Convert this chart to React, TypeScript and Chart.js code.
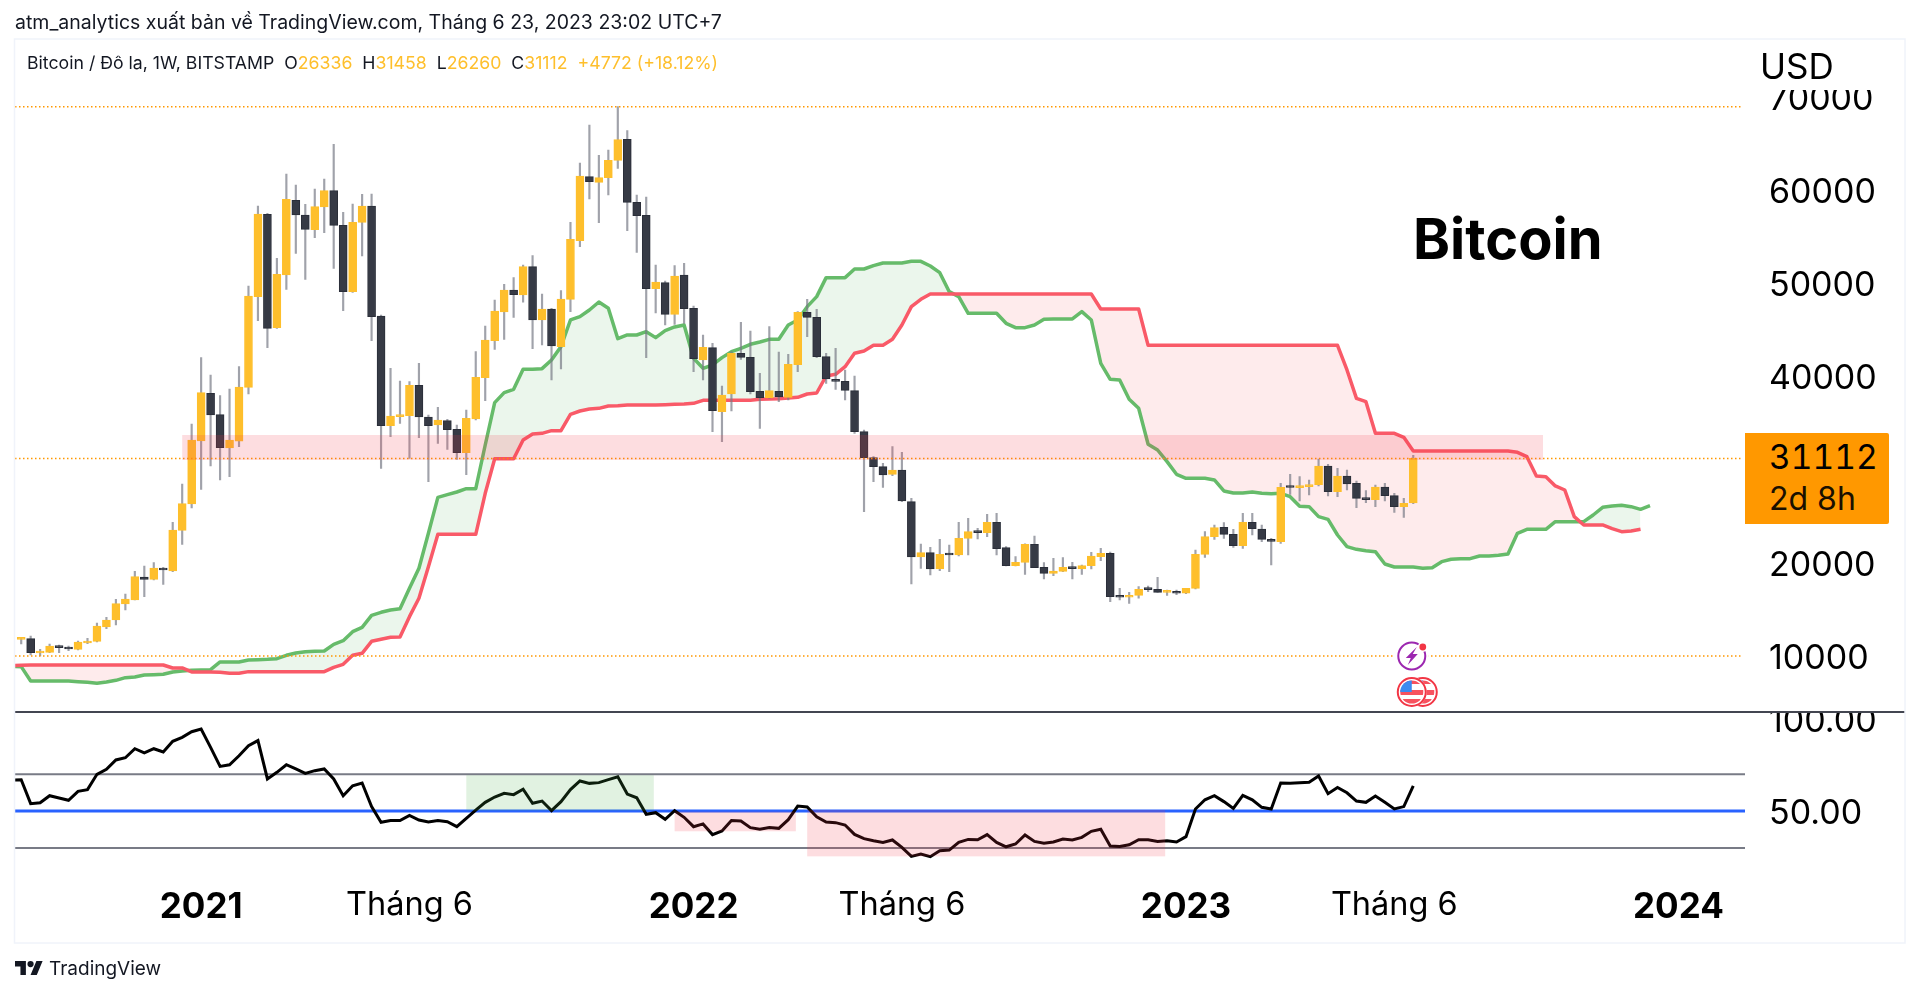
import React, { useEffect, useRef } from "react";
import { Chart, registerables } from "chart.js";

Chart.register(...registerables);

const opens = [11686,11757,10220,10290,10970,10826,10612,11292,11472,13010,13762,15480,15910,18380,18130,19347,19025,23392,26221,33000,38106,35815,32235,32977,38754,48493,57335,45163,50819,58838,57263,55688,58122,59876,56153,49029,56475,58230,46416,34633,35600,35708,38965,35564,34705,35170,34240,31734,35350,39792,43767,46845,49208,48672,51714,45987,47167,43122,48206,54507,61380,60771,61273,63134,65389,58622,57226,49350,50000,46594,50818,47238,41689,43012,36139,38032,42404,41974,38323,37643,38323,37679,41187,46807,46270,42046,39540,39397,38394,33991,31199,30232,29409,29874,26473,20530,20996,19242,20817,20745,22535,23251,23143,24254,21533,19600,19957,21890,19421,18776,18991,19421,19242,19600,20566,20924,16270,16200,16414,17130,17058,16736,16843,16629,17165,20817,22714,23716,22965,21747,24254,23537,22428,22176,28011,27976,28083,28298,30303,27546,29228,28441,26866,26687,28047,27116,25935,26336];
const highs = [11864,12044,10612,11185,11077,10970,11507,11793,13440,14048,15981,16554,18989,19562,19920,19418,24251,28368,34813,41941,40079,37855,38571,40974,49638,58230,57442,52609,61666,60485,58409,60055,61129,64852,57549,58445,59483,59518,46523,40795,39430,39359,41332,35779,36602,35314,34705,36316,42585,45342,48135,49817,50532,51893,52895,48779,47239,49137,56475,62848,66929,63671,64244,68898,66319,59410,59195,51892,50174,51820,52071,47488,44374,43478,38896,42580,45733,44802,40256,45268,42547,42296,46900,48204,47130,42404,42941,40614,39969,34170,31306,30590,32380,31771,26831,21926,21568,22428,21819,24253,24683,23609,25113,25220,21640,20566,21950,22786,19922,20387,20459,19958,19672,21031,21461,21067,17165,16736,17343,17415,18347,16987,16987,17165,21282,23251,23967,24218,23501,25220,25220,23967,22535,28441,29408,29157,28799,31054,30482,30052,29873,28691,27653,28262,28441,27367,26830,31458];
const lows = [11185,10003,9896,10254,10254,10470,10540,11220,11400,12831,13225,14836,15910,16268,18058,17593,18953,21889,25790,27796,30302,28798,29156,32378,38034,45915,43015,45091,49280,53146,50354,54829,55366,51535,46988,48957,52859,43767,30051,33452,34884,31125,33345,28619,32736,32092,31018,29371,35242,37318,42835,43910,46272,47900,42907,43302,39542,40723,46880,53862,58981,56440,59411,62275,55579,53252,41940,46737,45448,45520,45627,40436,39541,33991,32917,36211,41760,38036,34349,37571,37213,37392,40435,44194,41938,39182,38537,37392,33812,25398,28621,28012,29265,26473,17630,19312,18597,19063,18955,20638,20745,22463,22713,20745,19564,19564,18669,19385,18167,18525,18955,18167,18669,19242,20136,15733,15912,15554,16092,16808,16736,16414,16485,16593,17093,20495,22428,22535,21568,21460,22893,22177,19670,21997,27260,26543,27188,28154,27081,27009,27725,25827,26364,25935,26543,25326,24790,26260];
const closes = [11757,10254,10330,10970,10790,10647,11400,11472,13118,13762,15516,16018,18416,18130,19347,19132,23428,26256,33094,38178,35779,32270,33094,38786,48564,57370,45091,50890,58945,57263,55724,58158,59876,56153,49029,56475,58230,46344,34633,35672,35800,38965,35564,34633,35242,34204,31734,35421,39828,43838,46953,49208,48708,51714,45987,47167,43193,48242,54650,61452,60843,61273,63134,65354,58622,57190,49350,50066,46594,50711,47202,41832,43050,36246,37929,42404,41974,38287,37643,38394,37714,41223,46807,46270,42046,39647,39397,38430,33991,31199,30232,29337,29874,26545,20530,20996,19242,20817,20745,22535,23251,23143,24254,21425,19600,19957,21890,19385,18776,19026,19421,19277,19600,20638,20924,16270,16200,16414,17058,17022,16736,16843,16629,17165,20817,22714,23680,22965,21747,24254,23573,22428,22212,28011,27990,28154,28298,30303,27546,29228,28369,26830,26687,28047,27116,25935,26293,31112];

// These three series start one bar before the first candle (bar -1, at the left edge)
const senkouA = [8760,8750,7211,7211,7211,7211,7211,7139,7067,6960,7103,7282,7569,7640,7855,7891,7927,8177,8285,8356,8392,8428,9251,9251,9251,9466,9502,9538,9609,9967,10218,10361,10397,10433,11149,11542,12509,12974,14263,14585,14836,14979,17163,19311,23070,26936,27223,27509,27867,27867,32557,37104,38178,38536,40688,40688,40759,41690,43122,45986,46344,47060,47920,47238,43980,44374,44374,44732,44088,44839,45233,45448,41868,40794,41152,41940,42584,42942,43372,43622,43909,43909,45448,45985,47417,48491,50532,50531,50531,51461,51461,51820,52106,52106,52106,52285,52285,51784,51068,49027,48490,46700,46700,46700,46700,45626,45161,45161,45447,46056,46092,46092,46092,46879,45984,41330,39612,39540,37464,36497,32631,32022,30769,29409,28979,28979,28979,28800,27619,27404,27404,27511,27368,27332,27367,27010,25987,25935,24861,24574,22892,21639,21353,21209,21102,19777,19455,19455,19455,19312,19383,20028,20278,20350,20350,20636,20636,20708,20851,23071,23501,23501,23501,24324,24324,24324,24324,25040,25864,26007,26079,25935,25649,26042];
const senkouB = [8860,8893,8929,8929,8929,8929,8929,8929,8929,8929,8929,8929,8929,8929,8929,8929,8929,8607,8607,8177,8177,8177,8141,8034,8034,8213,8213,8213,8213,8213,8213,8213,8213,8213,8678,9001,9967,10182,11471,11686,11901,11936,14120,16089,19490,22963,22963,22963,22963,22963,27366,31089,31089,31089,33094,33738,33810,34096,34096,35851,36209,36423,36495,36746,36781,36853,36853,36855,36855,36891,36927,36962,37034,37356,37356,37356,37356,37356,37356,37464,37499,37535,37607,37678,38036,38144,39970,40149,40972,42404,42655,43263,43263,43908,45447,47416,48204,48776,48776,48776,48776,48776,48776,48776,48776,48776,48776,48776,48776,48776,48776,48776,48776,48776,48776,47165,47165,47165,47165,47165,43263,43263,43263,43263,43263,43263,43263,43263,43263,43263,43263,43263,43263,43263,43263,43263,43263,43263,43263,43263,43263,40613,37570,37212,33811,33811,33811,33381,31913,31913,31913,31913,31913,31913,31913,31913,31913,31913,31913,31770,31305,29228,29157,28155,27725,24861,23966,23966,23966,23572,23250,23322,23501];
const rsi = [66.8,67.0,54.0,54.5,58.3,57.1,55.8,60.7,61.6,69.9,72.6,77.7,78.9,83.8,81.6,83.8,82.0,87.8,90.0,93.0,94.5,84.5,74.2,75.1,80.0,85.4,88.2,67.4,71.0,75.1,72.8,70.4,71.9,72.8,67.4,58.3,63.7,65.2,52.4,43.9,44.8,44.8,47.6,45.1,44.0,44.8,44.2,41.5,46.0,50.5,54.7,57.6,59.6,58.9,61.8,54.2,55.4,50.2,55.1,61.6,66.3,65.0,65.4,67.0,68.6,59.2,57.2,48.2,49.1,45.5,50.2,46.6,41.5,43.0,37.2,39.2,44.8,44.6,41.0,40.1,41.1,40.6,45.3,52.7,52.2,46.9,44.0,43.7,42.4,37.3,35.0,33.9,33.0,34.3,30.3,25.4,26.7,25.2,28.5,28.8,33.0,34.6,34.4,37.2,33.0,30.6,32.1,37.0,33.5,32.5,33.2,34.8,34.3,35.7,39.0,40.1,31.0,30.8,31.7,34.4,34.4,33.5,33.9,33.2,36.1,51.1,56.1,58.3,55.1,51.4,58.5,56.1,52.0,51.1,65.2,65.0,65.4,65.6,69.0,59.4,62.8,59.9,55.4,54.7,58.1,54.7,51.1,52.4,63.7];

const timeTickIndexes = [19, 41, 71, 93, 123, 145, 175];
const timeTickLabels = ["2021", "Tháng 6", "2022", "Tháng 6", "2023", "Tháng 6", "2024"];
const priceTicks = [10000, 20000, 30000, 40000, 50000, 60000, 70000];
const rsiTicks = [50, 100];
const priceLevels = [68897, 31112, 9900];
const rsiLevels = [70, 30];
const rsiMiddle = 50;

// axis ranges
const xMin = -0.655;
const xMax = 182.03;
const levelEnd = 181.7;
const priceMin = 3763;
const priceMax = 75585;
const rsiMin = 12.58;
const rsiMax = 103.13;

// [xStart, xEnd, valueHigh, valueLow, colour]
const priceZones: [number, number, number, number, string][] = [
  [17.0, 160.7, 33632, 30945, "rgba(242,54,69,0.17)"],
];
const rsiZones: [number, number, number, number, string][] = [
  [47.0, 66.8, 69.4, 50.2, "rgba(76,175,80,0.17)"],
  [69.0, 81.8, 49.7, 39.0, "rgba(242,54,69,0.17)"],
  [83.0, 120.8, 50.6, 25.4, "rgba(242,54,69,0.17)"],
];

const FONT = "Inter, 'Liberation Sans', sans-serif";
const UP = "#FEBF2C";
const DOWN = "#363A45";
const DOWN_EDGE = "#2A2E39";
const WICK = "rgba(120,123,134,0.7)";
const idx = closes.map((_, i) => i);

const overlayPlugin = {
  id: "overlay",
  afterDatasetsDraw(chart: any) {
    const { ctx, scales } = chart;
    const drawZone = (z: any, yScale: any) => {
      const x0 = scales.x.getPixelForValue(z[0]);
      const x1 = scales.x.getPixelForValue(z[1]);
      const y0 = yScale.getPixelForValue(z[2]);
      const y1 = yScale.getPixelForValue(z[3]);
      ctx.fillStyle = z[4];
      ctx.fillRect(x0, y0, x1 - x0, y1 - y0);
    };
    ctx.save();
    priceZones.forEach((z) => drawZone(z, scales.y));
    rsiZones.forEach((z) => drawZone(z, scales.yRsi));

    // white masks that cut the top tick labels of each pane
    ctx.fillStyle = "#fff";
    ctx.fillRect(1750, 40, 154, 50);
    ctx.fillRect(1750, 695, 154, 17);

    // pane separator
    ctx.fillStyle = "#434651";
    ctx.fillRect(15, 711, 1890, 2);

    // frame
    ctx.strokeStyle = "#F0F3FA";
    ctx.lineWidth = 1.5;
    ctx.strokeRect(14.5, 39, 1890.5, 904);

    // event icons: economic + earnings markers on the last bar
    const cx = scales.x.getPixelForValue(147) - 1.5;
    ctx.fillStyle = "#fff";
    ctx.beginPath();
    ctx.arc(cx, 656, 17, 0, Math.PI * 2);
    ctx.fill();
    ctx.strokeStyle = "#9C27B0";
    ctx.lineWidth = 2;
    ctx.beginPath();
    ctx.arc(cx, 656, 13.5, 0, Math.PI * 2);
    ctx.stroke();
    ctx.fillStyle = "#9C27B0";
    ctx.beginPath();
    ctx.moveTo(cx + 5, 647);
    ctx.lineTo(cx - 6, 658);
    ctx.lineTo(cx - 1, 658);
    ctx.lineTo(cx - 4, 665);
    ctx.lineTo(cx + 6, 654);
    ctx.lineTo(cx + 1, 654);
    ctx.closePath();
    ctx.fill();
    ctx.fillStyle = "#fff";
    ctx.beginPath();
    ctx.arc(cx + 11, 647, 5, 0, Math.PI * 2);
    ctx.fill();
    ctx.fillStyle = "#F23645";
    ctx.beginPath();
    ctx.arc(cx + 11, 647, 3.4, 0, Math.PI * 2);
    ctx.fill();

    const fy = 692;
    const flag = (fx: number) => {
      ctx.fillStyle = "#fff";
      ctx.beginPath();
      ctx.arc(fx, fy, 15, 0, Math.PI * 2);
      ctx.fill();
      ctx.save();
      ctx.beginPath();
      ctx.arc(fx, fy, 11.5, 0, Math.PI * 2);
      ctx.clip();
      ctx.fillStyle = "#F7525F";
      ctx.fillRect(fx - 13, fy - 13, 26, 5);
      ctx.fillRect(fx - 13, fy - 2, 26, 5);
      ctx.fillRect(fx - 13, fy + 7, 26, 6);
      ctx.fillStyle = "#3D8BF0";
      ctx.fillRect(fx - 13, fy - 13, 13, 13);
      ctx.restore();
      ctx.strokeStyle = "#F23645";
      ctx.lineWidth = 2;
      ctx.beginPath();
      ctx.arc(fx, fy, 14, 0, Math.PI * 2);
      ctx.stroke();
    };
    flag(cx + 11);
    flag(cx);
    ctx.restore();
  },
};

const textStyle = (x: number, y: number, size: number, extra: any = {}) => ({
  position: "absolute" as const,
  left: x,
  top: y,
  fontFamily: FONT,
  fontSize: size,
  lineHeight: 1,
  whiteSpace: "pre" as const,
  color: "#131722",
  ...extra,
});

export default function App() {
  const ref = useRef<HTMLCanvasElement | null>(null);
  useEffect(() => {
    const barPts = (arr: number[]) => arr.map((v, i) => ({ x: i - 1, y: v }));
    const hLine = (v: number, end: number) => [
      { x: xMin, y: v },
      { x: end, y: v },
    ];
    const levelDatasets = priceLevels.map((v) => ({
      type: "line",
      data: hLine(v, levelEnd),
      yAxisID: "y",
      borderColor: "#FF9800",
      borderWidth: 1.5,
      borderDash: [1.5, 2.5],
      pointRadius: 0,
      order: 2,
    }));
    const rsiLevelDatasets = rsiLevels.map((v) => ({
      type: "line",
      data: hLine(v, xMax),
      yAxisID: "yRsi",
      borderColor: "#787B86",
      borderWidth: 2,
      pointRadius: 0,
      order: 3,
    }));
    const chart = new Chart(ref.current as HTMLCanvasElement, {
      type: "bar",
      data: {
        datasets: [
          {
            type: "line",
            data: barPts(senkouA),
            yAxisID: "y",
            borderColor: "#66BB6A",
            borderWidth: 3.5,
            pointRadius: 0,
            tension: 0,
            borderJoinStyle: "round",
            fill: {
              target: 1,
              above: "rgba(76,175,80,0.11)",
              below: "rgba(242,54,69,0.10)",
            },
            order: 7,
          },
          {
            type: "line",
            data: barPts(senkouB),
            yAxisID: "y",
            borderColor: "#F95A68",
            borderWidth: 3.5,
            pointRadius: 0,
            tension: 0,
            borderJoinStyle: "round",
            order: 6,
          },
          {
            type: "bar",
            data: idx.map((i) => ({ x: i, y: [lows[i], highs[i]] })),
            yAxisID: "y",
            grouped: false,
            barThickness: 1.5,
            backgroundColor: WICK,
            borderWidth: 0,
            order: 5,
          },
          {
            type: "bar",
            data: idx.map((i) => ({ x: i, y: [opens[i], closes[i]] })),
            yAxisID: "y",
            grouped: false,
            barThickness: 8,
            minBarLength: 2,
            backgroundColor: idx.map((i) => (closes[i] >= opens[i] ? UP : DOWN)),
            borderColor: idx.map((i) => (closes[i] >= opens[i] ? UP : DOWN_EDGE)),
            borderWidth: 1,
            borderSkipped: false,
            order: 4,
          },
          ...levelDatasets,
          ...rsiLevelDatasets,
          {
            type: "line",
            data: hLine(rsiMiddle, xMax),
            yAxisID: "yRsi",
            borderColor: "#2962FF",
            borderWidth: 3,
            pointRadius: 0,
            order: 2,
          },
          {
            type: "line",
            data: barPts(rsi),
            yAxisID: "yRsi",
            borderColor: "#000000",
            borderWidth: 3,
            pointRadius: 0,
            tension: 0,
            order: 1,
          },
        ] as any,
      },
      options: {
        animation: false,
        responsive: false,
        devicePixelRatio: 1,
        events: [],
        layout: { padding: { left: 15, right: 15, top: 39, bottom: 51 } },
        plugins: { legend: { display: false }, tooltip: { enabled: false } },
        scales: {
          x: {
            type: "linear",
            min: xMin,
            max: xMax,
            offset: false,
            grid: { display: false },
            border: { display: false },
            afterBuildTicks: (s: any) => {
              s.ticks = timeTickIndexes.map((value) => ({ value }));
            },
            afterFit: (s: any) => {
              s.height = 63;
            },
            ticks: {
              autoSkip: false,
              maxRotation: 0,
              padding: -2,
              color: "#000",
              font: (c: any) => {
                const year = c.tick && timeTickLabels[timeTickIndexes.indexOf(c.tick.value)] !== "Tháng 6";
                return { family: FONT, size: year ? 35 : 32.5, weight: year ? "bold" : "normal" };
              },
              callback: (v: any) => timeTickLabels[timeTickIndexes.indexOf(v)] ?? "",
            },
          },
          y: {
            position: "right",
            stack: "panes",
            stackWeight: 673,
            weight: 0,
            min: priceMin,
            max: priceMax,
            grid: { display: false, drawTicks: false },
            border: { display: false },
            afterBuildTicks: (s: any) => {
              s.ticks = priceTicks.map((value) => ({ value }));
            },
            afterFit: (s: any) => {
              s.width = 160;
            },
            ticks: {
              padding: 24,
              labelOffset: 3.5,
              color: "#000",
              autoSkip: false,
              font: { family: FONT, size: 34 },
              callback: (v: any) => String(v),
            },
          },
          yRsi: {
            position: "right",
            stack: "panes",
            stackWeight: 168,
            weight: 1,
            min: rsiMin,
            max: rsiMax,
            grid: { display: false, drawTicks: false },
            border: { display: false },
            afterBuildTicks: (s: any) => {
              s.ticks = rsiTicks.map((value) => ({ value }));
            },
            afterFit: (s: any) => {
              s.width = 160;
            },
            ticks: {
              padding: 24,
              labelOffset: 3,
              color: "#000",
              autoSkip: false,
              font: { family: FONT, size: 34 },
              callback: (v: any) => Number(v).toFixed(2),
            },
          },
        },
      } as any,
      plugins: [overlayPlugin],
    } as any);
    return () => chart.destroy();
  }, []);

  const yellow = { color: "#FEBF2C" };
  const tab = { fontVariantNumeric: "tabular-nums" };
  return (
    <div style={{ position: "fixed", left: 0, top: 0, width: 1920, height: 994, background: "#fff", overflow: "hidden" }}>
      <canvas ref={ref} width={1920} height={994} style={{ position: "absolute", left: 0, top: 0, display: "block" }} />
      <div style={textStyle(15, 13, 19.5)}>atm_analytics xuất bản về TradingView.com, Tháng 6 23, 2023 23:02 UTC+7</div>
      <div style={textStyle(27, 54, 17.7)}>
        {"Bitcoin / Đô la, 1W, BITSTAMP  O"}
        <span style={yellow}>26336</span>
        {"  H"}
        <span style={yellow}>31458</span>
        {"  L"}
        <span style={yellow}>26260</span>
        {"  C"}
        <span style={yellow}>31112</span>
        {"  "}
        <span style={yellow}>+4772 (+18.12%)</span>
      </div>
      <div style={textStyle(1760, 49, 35, { color: "#000" })}>USD</div>
      <div style={textStyle(1413, 211, 56, { fontWeight: 700, color: "#000" })}>Bitcoin</div>
      <div style={{ position: "absolute", left: 1745, top: 433, width: 144, height: 91, background: "#FF9800", borderRadius: "0 2px 2px 0" }} />
      <div style={textStyle(1769, 441, 33.5, { color: "#000", ...tab })}>31112</div>
      <div style={textStyle(1769, 483, 32, { color: "#1a1000" })}>2d 8h</div>
      <svg style={{ position: "absolute", left: 15, top: 961 }} width={28} height={14} viewBox="0 4 36 18">
        <path d="M14 22H7V11H0V4h14v18zM28 22h-8l7.5-18h8L28 22z" fill="#131722" />
        <circle cx={20} cy={8} r={4} fill="#131722" />
      </svg>
      <div style={textStyle(49, 959, 19, { color: "#131722" })}>TradingView</div>
    </div>
  );
}
